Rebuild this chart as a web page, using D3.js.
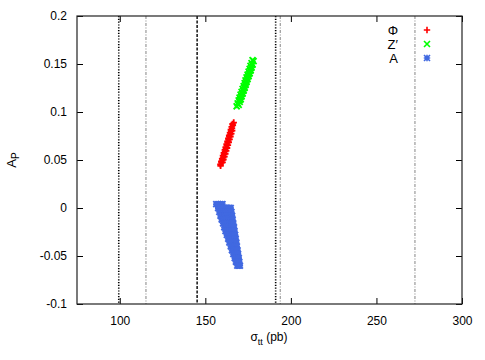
<!DOCTYPE html>
<html><head><meta charset="utf-8">
<script src="https://cdn.jsdelivr.net/npm/d3@7"></script>
<style>body{margin:0;background:#fff;} text{font-family:"Liberation Sans",Arial,sans-serif;}</style>
</head><body>
<svg id="c" width="485" height="360"></svg>
<script>
// ---- data ----
const xTicks = [100, 150, 200, 250, 300];
const yTicks = [-0.1, -0.05, 0, 0.05, 0.1, 0.15, 0.2];
const yTickLabels = ["-0.1", "-0.05", "0", "0.05", "0.1", "0.15", "0.2"];
const refLines = [99.4, 115.3, 145.2, 191.1, 193.8, 272.5];
const legendLabels = ["Φ", "Z′", "A"];

const phiX = [158.9,159.4,160.0,160.5,161.0,161.5,162.0,162.5,163.0,163.5,164.0,164.6,165.1,165.6,166.1,166.6,
              160.1,160.6,161.2,161.7,162.2,162.7,163.2,163.7,164.2,164.7,165.2,165.7,
              158.8,159.3,159.8,160.3,160.8,161.4,161.9,162.4,162.9,163.4,163.9,164.4,164.9,165.4,165.9];
const phiY = [0.044,0.047,0.050,0.053,0.056,0.059,0.062,0.065,0.068,0.071,0.074,0.077,0.080,0.083,0.086,0.089,
              0.0475,0.0505,0.0535,0.0565,0.0595,0.0625,0.0655,0.0685,0.0715,0.0745,0.0775,0.0805,
              0.0455,0.0485,0.0515,0.0545,0.0575,0.0605,0.0635,0.0665,0.0695,0.0725,0.0755,0.0785,0.0815,0.0845,0.0875];
const zX = [168.3,168.9,169.5,170.0,170.6,171.2,171.8,172.4,173.0,173.5,174.1,174.7,175.3,175.9,176.4,177.0,177.6,
            170.4,171.0,171.6,172.2,172.8,173.3,173.9,174.5,175.1,175.7,176.3,176.8,177.4,178.2,
            169.5,170.1,170.7,171.2,171.8,172.4,173.0,173.6,174.1,174.7,175.3,175.9,176.5,177.0,177.6];
const zY = [0.106,0.109,0.112,0.115,0.118,0.121,0.124,0.127,0.130,0.133,0.136,0.139,0.142,0.145,0.148,0.151,0.154,
            0.113,0.116,0.119,0.122,0.125,0.128,0.131,0.134,0.137,0.140,0.143,0.146,0.149,0.153,
            0.1075,0.1105,0.1135,0.1165,0.1195,0.1225,0.1255,0.1285,0.1315,0.1345,0.1375,0.1405,0.1435,0.1465,0.1495];
const aX = [156.4,157.6,158.8,160.0,
            157.5,158.8,160.1,161.4,162.6,163.8,164.8,
            158.2,159.5,160.8,162.1,163.4,164.4,165.2,
            158.9,160.2,161.5,162.8,164.0,165.0,165.6,
            159.6,160.9,162.2,163.5,164.7,165.9,
            160.4,161.7,163.0,164.3,165.4,166.3,
            161.1,162.4,163.7,165.0,166.0,166.7,
            161.8,163.1,164.4,165.6,166.5,167.0,
            162.6,163.9,165.2,166.3,167.4,
            163.4,164.7,165.9,167.0,167.7,
            164.1,165.4,166.6,167.6,168.1,
            164.9,166.1,167.2,168.4,
            165.6,166.8,167.8,168.8,
            166.4,167.5,168.4,169.1,
            167.2,168.2,169.5,
            167.9,168.9,169.8,
            168.7,169.5,170.2];
const aY = [0.004,0.004,0.004,0.004,
            0.000,0.000,0.000,0.000,0.000,0.000,0.000,
            -0.004,-0.004,-0.004,-0.004,-0.004,-0.004,-0.004,
            -0.008,-0.008,-0.008,-0.008,-0.008,-0.008,-0.008,
            -0.012,-0.012,-0.012,-0.012,-0.012,-0.012,
            -0.016,-0.016,-0.016,-0.016,-0.016,-0.016,
            -0.020,-0.020,-0.020,-0.020,-0.020,-0.020,
            -0.024,-0.024,-0.024,-0.024,-0.024,-0.024,
            -0.028,-0.028,-0.028,-0.028,-0.028,
            -0.032,-0.032,-0.032,-0.032,-0.032,
            -0.036,-0.036,-0.036,-0.036,-0.036,
            -0.040,-0.040,-0.040,-0.040,
            -0.044,-0.044,-0.044,-0.044,
            -0.048,-0.048,-0.048,-0.048,
            -0.052,-0.052,-0.052,
            -0.056,-0.056,-0.056,
            -0.060,-0.060,-0.060];

// ---- layout ----
const svg = d3.select("#c");
const L = 77, R = 462, T = 16, B = 304;
const x = d3.scaleLinear().domain([75, 300]).range([L, R]);
const y = d3.scaleLinear().domain([-0.1, 0.2]).range([B, T]);

const refStyle = [
  {c:"#000", w:1.6, d:"1.2,1.6"},
  {c:"#999", w:1.2, d:"3,1.5,1,1.5"},
  {c:"#000", w:1.4, d:"3,1.5"},
  {c:"#000", w:1.6, d:"1.2,1.6"},
  {c:"#999", w:1.2, d:"3,1.5,1,1.5"},
  {c:"#999", w:1.2, d:"3,1.5,1,1.5"}
];
svg.append("g").selectAll("line").data(refLines).join("line")
  .attr("x1", d => x(d)).attr("x2", d => x(d))
  .attr("y1", T).attr("y2", B)
  .attr("stroke", (d,i) => refStyle[i].c)
  .attr("stroke-width", (d,i) => refStyle[i].w)
  .attr("stroke-dasharray", (d,i) => refStyle[i].d);

// axes (gnuplot style, inward ticks, mirrored)
const fmtY = (d,i) => yTickLabels[i];
const gB = svg.append("g").attr("transform", `translate(0,${B})`)
  .call(d3.axisBottom(x).tickValues(xTicks).tickSize(-6).tickPadding(12).tickSizeOuter(0));
const gT = svg.append("g").attr("transform", `translate(0,${T})`)
  .call(d3.axisTop(x).tickValues(xTicks).tickSize(-6).tickFormat("").tickSizeOuter(0));
const gL = svg.append("g").attr("transform", `translate(${L},0)`)
  .call(d3.axisLeft(y).tickValues(yTicks).tickSize(-6).tickPadding(10).tickFormat(fmtY).tickSizeOuter(0));
const gR = svg.append("g").attr("transform", `translate(${R},0)`)
  .call(d3.axisRight(y).tickValues(yTicks).tickSize(-6).tickFormat("").tickSizeOuter(0));
[gB,gT,gL,gR].forEach(g => {
  g.select(".domain").remove();
  g.selectAll(".tick line").attr("stroke", "#000").attr("stroke-width", 1);
  g.selectAll("text").attr("font-size", 12).attr("fill", "#000")
    .style("font-family", '"Liberation Sans",Arial,sans-serif');
});
svg.append("rect").attr("x", L).attr("y", T).attr("width", R-L).attr("height", B-T)
  .attr("fill", "none").attr("stroke", "#222").attr("stroke-width", 1.2);

// markers
const plusP = "M-3.2,0H3.2M0,-3.2V3.2";
const crossP = "M-3,-3L3,3M-3,3L3,-3";
const starP = plusP + crossP;
function pts(xs, ys, path, color, sw) {
  svg.append("g").selectAll("path").data(xs.map((v,i) => [v, ys[i]])).join("path")
    .attr("transform", d => `translate(${x(d[0])},${y(d[1])})`)
    .attr("d", path).attr("stroke", color).attr("stroke-width", sw).attr("fill", "none");
}
pts(aX, aY, starP, "#4169e1", 2);
pts(phiX, phiY, plusP, "#ff0000", 1.8);
pts(zX, zY, crossP, "#00ff00", 1.8);

// legend
const legSym = [plusP, crossP, starP];
const legCol = ["#ff0000", "#00ff00", "#4169e1"];
legendLabels.forEach((t, i) => {
  const yy = 30 + i * 14;
  svg.append("text").attr("x", 398).attr("y", yy + 5).attr("text-anchor", "end")
    .attr("font-size", 13).text(t);
  svg.append("path").attr("transform", `translate(427,${yy})`).attr("d", legSym[i])
    .attr("stroke", legCol[i]).attr("stroke-width", 1.6).attr("fill", "none");
});

// axis labels
const yl = svg.append("text").attr("transform", "translate(16,160) rotate(-90)")
  .attr("text-anchor", "middle").attr("font-size", 13);
yl.append("tspan").text("A");
yl.append("tspan").attr("font-size", 10).attr("dy", 3).text("P");
const xl = svg.append("text").attr("x", 269).attr("y", 341).attr("text-anchor", "middle").attr("font-size", 12);
xl.append("tspan").text("σ");
xl.append("tspan").attr("font-size", 9).attr("dy", 4).text("tt");
xl.append("tspan").attr("dy", -4).text(" (pb)");
</script>
</body></html>
